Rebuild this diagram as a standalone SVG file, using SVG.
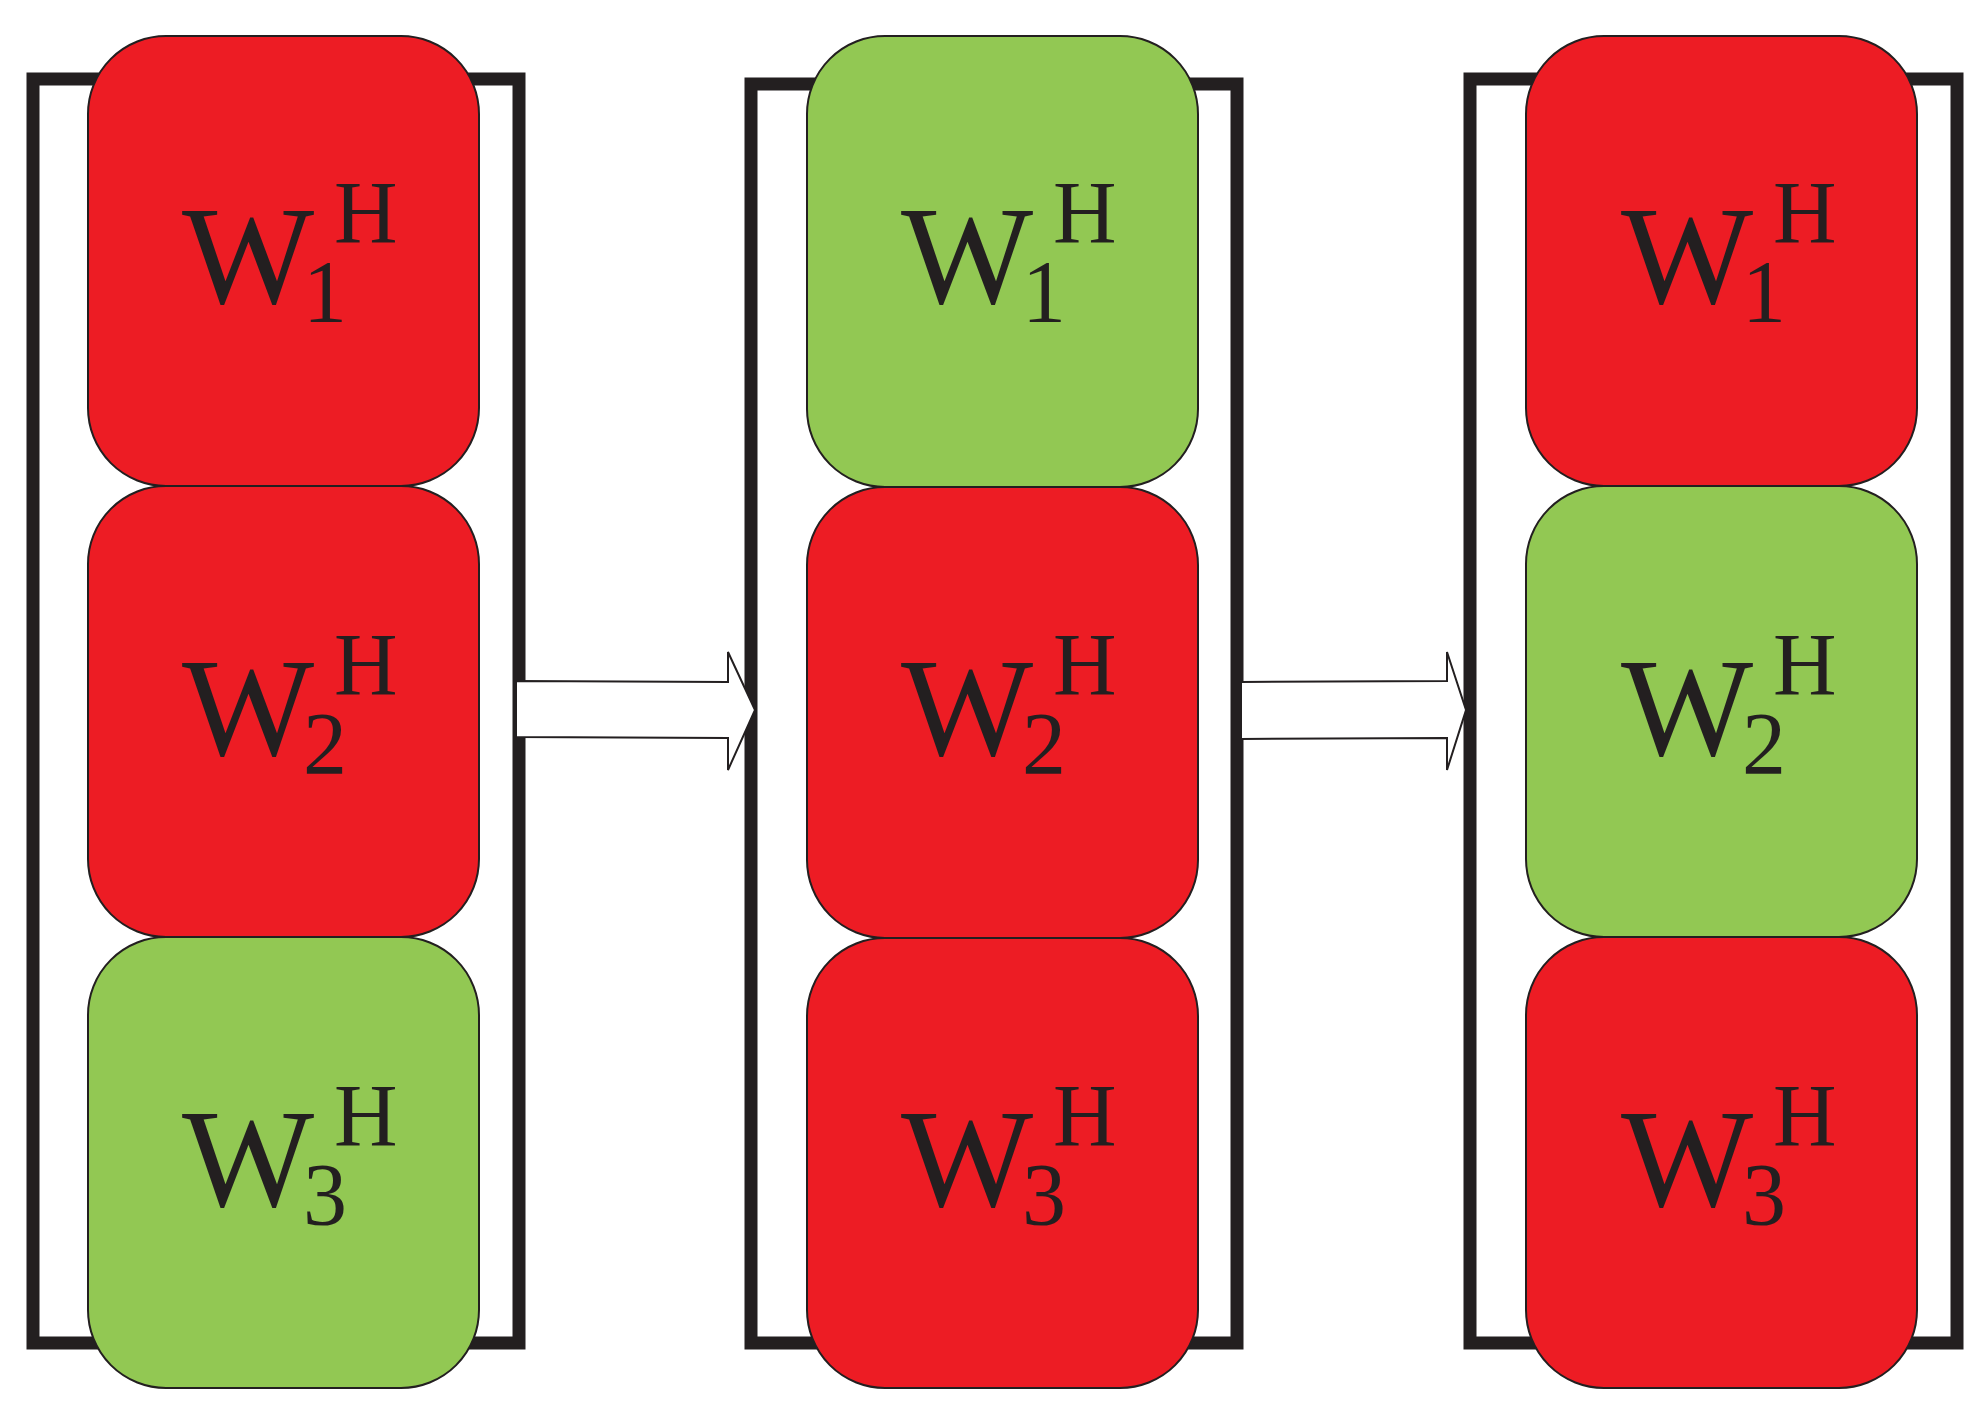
<svg xmlns="http://www.w3.org/2000/svg" width="1986" height="1414" viewBox="0 0 1986 1414">
<style>
.frame{fill:none;stroke:#231F20;stroke-width:13}
.r{fill:#ED1C24;stroke:#231F20;stroke-width:2}
.g{fill:#92C853;stroke:#231F20;stroke-width:2}
.w{font-family:"Liberation Serif",serif;font-size:140px;fill:#231F20}
.s{font-family:"Liberation Serif",serif;font-size:88px;fill:#231F20}
.arr{fill:#fff;stroke:#231F20;stroke-width:2}
</style>
<defs>
<g id="lab1"><text class="w" x="0" y="0">W</text><text class="s" x="121" y="18">1</text><text class="s" x="152" y="-61">H</text></g>
<g id="lab2"><text class="w" x="0" y="0">W</text><text class="s" x="121" y="18">2</text><text class="s" x="152" y="-61">H</text></g>
<g id="lab3"><text class="w" x="0" y="0">W</text><text class="s" x="121" y="18">3</text><text class="s" x="152" y="-61">H</text></g>
</defs>
<g id="col1">
<rect class="frame" x="33" y="79" width="486" height="1264"/>
<rect class="r" x="88" y="36" width="391" height="450" rx="78"/>
<rect class="r" x="88" y="486" width="391" height="451" rx="78"/>
<rect class="g" x="88" y="937" width="391" height="451" rx="78"/>
<use href="#lab1" x="182" y="303"/><use href="#lab2" x="182" y="755"/><use href="#lab3" x="182" y="1206"/>
</g>
<g id="col2">
<rect class="frame" x="751" y="84" width="486" height="1259"/>
<rect class="g" x="807" y="36" width="391" height="451" rx="78"/>
<rect class="r" x="807" y="487" width="391" height="451" rx="78"/>
<rect class="r" x="807" y="938" width="391" height="450" rx="78"/>
<use href="#lab1" x="901" y="303"/><use href="#lab2" x="901" y="755"/><use href="#lab3" x="901" y="1206"/>
</g>
<g id="col3">
<rect class="frame" x="1470" y="79" width="487" height="1264"/>
<rect class="r" x="1526" y="36" width="391" height="450" rx="78"/>
<rect class="g" x="1526" y="486" width="391" height="451" rx="78"/>
<rect class="r" x="1526" y="937" width="391" height="451" rx="78"/>
<use href="#lab1" x="1621" y="303"/><use href="#lab2" x="1621" y="755"/><use href="#lab3" x="1621" y="1206"/>
</g>
<g id="connectors">
<polygon class="arr" points="516,681 728,682 728,652 755,710 728,770 728,738 516,737"/>
<polygon class="arr" points="1241,682 1447,681 1447,652 1466,710 1447,770 1447,738 1241,739"/>
</g>
</svg>
